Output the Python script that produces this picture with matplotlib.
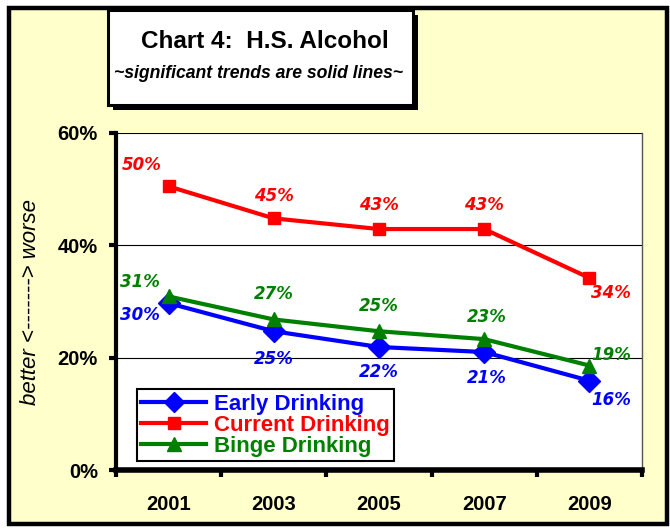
import matplotlib
matplotlib.use('Agg')
import matplotlib.pyplot as plt
from matplotlib.patches import Rectangle
from matplotlib.ticker import FixedLocator

plt.rcParams['font.family'] = ['Liberation Sans', 'DejaVu Sans']

# data
years = ['2001', '2003', '2005', '2007', '2009']
early = [29.7, 24.7, 21.9, 21.0, 15.9]
current = [50.5, 44.8, 42.9, 42.9, 34.2]
binge = [30.9, 26.8, 24.7, 23.3, 18.6]
early_labels = ['30%', '25%', '22%', '21%', '16%']
current_labels = ['50%', '45%', '43%', '43%', '34%']
binge_labels = ['31%', '27%', '25%', '23%', '19%']
y_ticks = [0, 20, 40, 60]
y_tick_labels = ['0%', '20%', '40%', '60%']

# label offsets in pixels (dx, dy)
early_off = [(-29, -12), (0, -28), (0, -25), (3, -26), (22, -19)]
current_off = [(-27, 21), (0, 22), (0, 24), (0, 24), (22, -15)]
binge_off = [(-29, 14), (0, 25), (0, 25), (3, 22), (22, 11)]

W, H = 670, 529
fig = plt.figure(figsize=(W / 100, H / 100), dpi=100)
fig.patch.set_facecolor('white')


def fx(px):
    return px / W


def fy(py):
    return 1 - py / H


# outer yellow frame
fig.patches.append(Rectangle((fx(9), fy(524)), fx(667) - fx(9), fy(7.5) - fy(524),
                             transform=fig.transFigure, facecolor='#FFFFCC',
                             edgecolor='black', linewidth=3.2, zorder=-2))

# title box with shadow
fig.patches.append(Rectangle((fx(113), fy(110)), fx(418) - fx(113), fy(15) - fy(110),
                             transform=fig.transFigure, facecolor='black',
                             edgecolor='black', linewidth=0, zorder=-1))
fig.patches.append(Rectangle((fx(108), fy(105)), fx(413) - fx(108), fy(10) - fy(105),
                             transform=fig.transFigure, facecolor='white',
                             edgecolor='black', linewidth=2.2, zorder=-1))
fig.text(fx(265), fy(41), 'Chart 4:  H.S. Alcohol', ha='center', va='center',
         fontsize=17.5, fontweight='bold')
fig.text(fx(259), fy(74), '~significant trends are solid lines~', ha='center', va='center',
         fontsize=12.7, fontweight='bold', fontstyle='italic')

ax = fig.add_axes([fx(116), fy(470), fx(642) - fx(116), fy(133) - fy(470)])
ax.set_zorder(5)
ax.set_facecolor('white')
x = range(len(years))

ax.plot(x, early, color='#0000FF', lw=3, marker='D', markersize=11, zorder=4,
        label='Early Drinking')
ax.plot(x, current, color='#FF0000', lw=3, marker='s', markersize=8.5, zorder=4,
        label='Current Drinking')
ax.plot(x, binge, color='#008000', lw=3, marker='^', markersize=10, zorder=4,
        label='Binge Drinking')

for vals, labs, offs, col in [(early, early_labels, early_off, '#0000FF'),
                              (current, current_labels, current_off, '#FF0000'),
                              (binge, binge_labels, binge_off, '#008000')]:
    for i, (v, t) in enumerate(zip(vals, labs)):
        ax.annotate(t, (i, v), xytext=offs[i], textcoords='offset pixels',
                    ha='center', va='center', color=col, fontsize=12,
                    family='DejaVu Sans', fontweight='bold', fontstyle='oblique',
                    zorder=5)

ax.set_xlim(-0.5, 4.5)
ax.set_ylim(0, 60)
ax.set_yticks(y_ticks)
ax.set_yticklabels(y_tick_labels)
ax.set_xticks(list(x))
ax.set_xticklabels(years)
ax.xaxis.set_minor_locator(FixedLocator([i - 0.5 for i in range(len(years) + 1)]))
ax.tick_params(axis='x', which='major', length=0, pad=18, labelsize=14.5)
ax.tick_params(axis='x', which='minor', length=5, width=3, direction='out')
ax.tick_params(axis='y', length=5, width=3, direction='out', pad=8, labelsize=14.5)
for lab in ax.get_xticklabels() + ax.get_yticklabels():
    lab.set_fontweight('bold')

ax.yaxis.grid(True, color='black', lw=0.8)
ax.set_axisbelow(True)
ax.spines['left'].set_linewidth(3)
ax.spines['bottom'].set_linewidth(4)
ax.spines['top'].set_visible(False)
ax.spines['right'].set_color('#555555')
ax.spines['right'].set_linewidth(1)

ax.set_ylabel('better <-------> worse', fontsize=16, fontstyle='italic')
ax.yaxis.set_label_coords(-(116 - 41) / 526, (470 - 302) / 337)

leg = ax.legend(loc='lower left', bbox_to_anchor=((137 - 116) / 526, (470 - 461) / 337),
                borderaxespad=0, fancybox=False, framealpha=1, edgecolor='black',
                prop={'size': 16, 'weight': 'bold'}, handlelength=2.9,
                handletextpad=0.35, labelspacing=0.0, borderpad=0.2,
                markerscale=0.95)
leg.get_frame().set_linewidth(1.5)
for txt, col in zip(leg.get_texts(), ['#0000FF', '#FF0000', '#008000']):
    txt.set_color(col)

fig.savefig('out.png', dpi=100)
